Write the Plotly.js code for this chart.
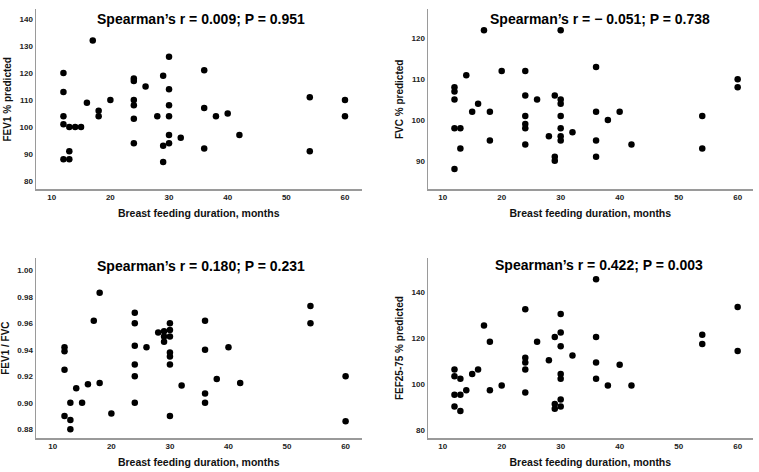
<!DOCTYPE html>
<html>
<head>
<meta charset="utf-8">
<script src="https://cdn.plot.ly/plotly-3.0.1.min.js"></script>
<style>html,body{margin:0;padding:0;background:#fff;}#chart{width:759px;height:472px;}</style>
</head>
<body>
<div id="chart"></div>
<script>
// Breast feeding duration (months) for each panel
const x_fev1 = [12,12,12,12,12,13,13,13,14,15,16,17,18,18,20,24,24,24,24,24,24,26,28,29,29,29,30,30,30,30,30,30,32,36,36,36,38,40,42,54,54,60,60];
const y_fev1 = [120,113,104,101,88,100,91,88,100,100,109,132,106,104,110,118,117,110,108,103,94,115,104,119,93,87,126,114,108,104,97,94,96,121,107,92,104,105,97,111,91,110,104];

const x_fvc = [12,12,12,12,12,13,13,14,15,16,17,18,18,20,24,24,24,24,24,24,26,28,29,29,29,30,30,30,30,30,30,30,32,36,36,36,36,38,40,42,54,54,60,60];
const y_fvc = [108,107,105,98,88,98,93,111,102,104,122,102,95,112,112,106,101,99,98,94,105,96,106,91,90,122,105,104,101,98,96,95,97,113,102,95,91,100,102,94,101,93,110,108];

const x_ratio = [12,12,12,12,13,13,13,14,15,16,17,18,18,20,24,24,24,24,24,24,26,28,29,29,29,30,30,30,30,30,30,30,32,36,36,36,36,38,40,42,54,54,60,60];
const y_ratio = [0.942,0.939,0.925,0.890,0.900,0.887,0.880,0.911,0.900,0.914,0.962,0.983,0.915,0.892,0.968,0.960,0.943,0.929,0.920,0.900,0.942,0.953,0.954,0.950,0.946,0.960,0.955,0.950,0.938,0.935,0.929,0.890,0.913,0.962,0.940,0.907,0.900,0.918,0.942,0.915,0.973,0.960,0.920,0.886];

const x_fef = [12,12,12,12,13,13,13,14,15,16,17,18,18,20,24,24,24,24,24,26,28,29,29,29,30,30,30,30,30,30,30,32,36,36,36,36,38,40,42,54,54,60,60];
const y_fef = [106.5,103.5,95.5,90.5,102.5,95.5,88.5,97.5,104.5,106.5,125.5,118.5,97.5,99.5,132.5,111.5,109.5,106.5,96.5,118.5,110.5,120.5,91.5,89.5,130.5,122.5,116.5,104.5,102.5,93.5,90.5,112.5,145.5,120.5,109.5,102.5,99.5,108.5,99.5,121.5,117.5,133.5,114.5];

const panelTitles = ["Spearman\u2019s r = 0.009; P = 0.951","Spearman\u2019s r = \u2212 0.051; P = 0.738","Spearman\u2019s r = 0.180; P = 0.231","Spearman\u2019s r = 0.422; P = 0.003"];
const yTitles = ["FEV1 % predicted","FVC % predicted","FEV1 / FVC","FEF25-75 % predicted"];
const xTitle = "Breast feeding duration, months";

const FONT = "Liberation Sans, Arial, sans-serif";
const marker = {color:'#000', size:6.5};

const traces = [
  {x:x_fev1, y:y_fev1, xaxis:'x', yaxis:'y'},
  {x:x_fvc, y:y_fvc, xaxis:'x2', yaxis:'y2'},
  {x:x_ratio, y:y_ratio, xaxis:'x3', yaxis:'y3'},
  {x:x_fef, y:y_fef, xaxis:'x4', yaxis:'y4'}
].map(t => Object.assign(t, {type:'scatter', mode:'markers', marker:marker, hoverinfo:'skip', showlegend:false}));

function xa(domain, range, anchor){
  return {domain:domain, range:range, anchor:anchor, showgrid:false, zeroline:false,
    showline:true, linecolor:'#9a9a9a', linewidth:1.2, ticks:'', tickvals:[10,20,30,40,50,60],
    tickfont:{family:FONT, size:8, color:'#222', weight:'bold'},
    title:{text:xTitle, font:{family:FONT, size:10.5, color:'#111', weight:'bold'}, standoff:8}};
}
function ya(domain, range, anchor, title, tickvals, fmt){
  return {domain:domain, range:range, anchor:anchor, showgrid:false, zeroline:false,
    showline:true, linecolor:'#9a9a9a', linewidth:1.2, ticks:'', tickvals:tickvals, tickformat:fmt,
    tickfont:{family:FONT, size:8, color:'#222', weight:'bold'},
    title:{text:title, font:{family:FONT, size:10, color:'#111', weight:'bold'}, standoff:6}};
}

const xd1 = [35.7/759, 361.7/759], xd2 = [427.7/759, 753/759];
const yd1 = [1-189.3/472, 1-9.3/472], yd2 = [1-438.3/472, 1-258/472];

const layout = {
  width:759, height:472, margin:{l:0,r:0,t:0,b:0}, paper_bgcolor:'#fff', plot_bgcolor:'#fff',
  xaxis: xa(xd1, [7.27,62.85], 'y'),
  yaxis: ya(yd1, [76.9,143.6], 'x', yTitles[0], [80,90,100,110,120,130,140]),
  xaxis2: xa(xd2, [7.46,62.6], 'y2'),
  yaxis2: ya(yd1, [83.0,127.15], 'x2', yTitles[1], [90,100,110,120]),
  xaxis3: xa(xd1, [7.08,62.75], 'y3'),
  yaxis3: ya(yd2, [0.8732,1.0093], 'x3', yTitles[2], [0.88,0.90,0.92,0.94,0.96,0.98,1.00], '.2f'),
  xaxis4: xa(xd2, [7.46,62.6], 'y4'),
  yaxis4: ya(yd2, [76.7,154.7], 'x4', yTitles[3], [80,100,120,140]),
  annotations: [
    [201/759, 1-19/472],
    [600/759, 1-19/472],
    [201/759, 1-266/472],
    [598.7/759, 1-265/472]
  ].map((p,i)=>({xref:'paper', yref:'paper', x:p[0], y:p[1], xanchor:'center', yanchor:'middle', showarrow:false,
     text:panelTitles[i], font:{family:FONT, size:14, color:'#000', weight:'bold'}}))
};

Plotly.newPlot('chart', traces, layout, {staticPlot:true, displayModeBar:false});
</script>
</body>
</html>
